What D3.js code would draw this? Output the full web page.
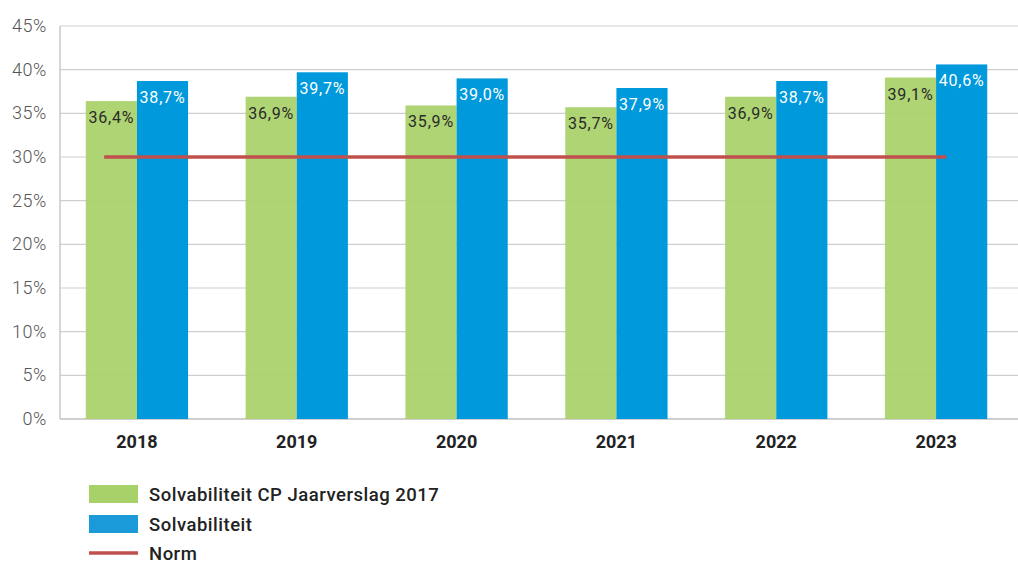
<!DOCTYPE html>
<html>
<head>
<meta charset="utf-8">
<script src="https://cdn.jsdelivr.net/npm/d3@7"></script>
<style>
  html, body { margin: 0; padding: 0; background: #fff; }
  svg { display: block; font-family: Roboto, "Noto Sans", sans-serif; }
</style>
</head>
<body>
<svg id="chart" width="1018" height="563"></svg>
<script>
// Solvability per year: CP annual report 2017 vs. actual, with 30% norm.
const years = ['2018', '2019', '2020', '2021', '2022', '2023'];
const cpValues = [36.4, 36.9, 35.9, 35.7, 36.9, 39.1];      // Solvabiliteit CP Jaarverslag 2017
const solvValues = [38.7, 39.7, 39.0, 37.9, 38.7, 40.6];    // Solvabiliteit
const normValue = 30;
const yTicks = [0, 5, 10, 15, 20, 25, 30, 35, 40, 45];
const seriesNames = ['Solvabiliteit CP Jaarverslag 2017', 'Solvabiliteit', 'Norm'];

const GREEN = '#a9d16a', BLUE = '#0099dc', RED = '#c0504d';

const svg = d3.select('#chart');
const plotL = 60, plotR = 1016, plotT = 26, plotB = 419;

const x = d3.scaleBand().domain(years).range([plotL - 3, plotR]).paddingInner(0.36).paddingOuter(0.18);
const xs = d3.scaleBand().domain([0, 1]).range([0, x.bandwidth()]);
const y = d3.scaleLinear().domain([0, 45]).range([plotB, plotT]);

const fmt = v => d3.format('.1f')(v).replace('.', ',') + '%';

// gridlines
svg.append('g')
  .selectAll('line')
  .data(yTicks)
  .join('line')
  .attr('x1', plotL).attr('x2', 1018)
  .attr('y1', d => y(d)).attr('y2', d => y(d))
  .attr('stroke', '#cfcfcf')
  .attr('stroke-width', d => d === 0 ? 2 : 1.2);

// left axis line
svg.append('line')
  .attr('x1', plotL).attr('x2', plotL)
  .attr('y1', plotT).attr('y2', plotB)
  .attr('stroke', '#c8c8c8').attr('stroke-width', 1.5);

// y tick labels
svg.append('g')
  .selectAll('text')
  .data(yTicks)
  .join('text')
  .attr('x', 47)
  .attr('y', d => y(d) + 6)
  .attr('text-anchor', 'end')
  .attr('fill', '#555')
  .style('font-size', '18px')
  .style('font-weight', 300)
  .style('letter-spacing', '0.6px')
  .text(d => d + '%');

// bars
const groups = svg.append('g')
  .selectAll('g')
  .data(years.map((yr, i) => ({ yr, vals: [cpValues[i], solvValues[i]] })))
  .join('g')
  .attr('transform', d => `translate(${x(d.yr)},0)`);

groups.selectAll('rect')
  .data(d => d.vals.map((v, k) => ({ v, k })))
  .join('rect')
  .attr('x', d => xs(d.k))
  .attr('width', xs.bandwidth())
  .attr('y', d => y(d.v))
  .attr('height', d => y(0) - y(d.v))
  .attr('fill', d => d.k === 0 ? GREEN : BLUE)
  .attr('fill-opacity', d => d.k === 0 ? 0.94 : 1);

groups.selectAll('text')
  .data(d => d.vals.map((v, k) => ({ v, k })))
  .join('text')
  .attr('x', d => xs(d.k) + xs.bandwidth() / 2)
  .attr('y', d => y(d.v) + 22)
  .attr('text-anchor', 'middle')
  .attr('fill', d => d.k === 0 ? '#2a2a2a' : '#fff')
  .style('font-size', '16px')
  .style('font-weight', 400)
  .style('letter-spacing', '0.8px')
  .text(d => fmt(d.v));

// norm line
svg.append('line')
  .attr('x1', x(years[0]) + x.bandwidth() * 0.18)
  .attr('x2', x(years[years.length - 1]) + x.bandwidth() * 0.6)
  .attr('y1', y(normValue)).attr('y2', y(normValue))
  .attr('stroke', RED).attr('stroke-width', 3.5);

// x labels
svg.append('g')
  .selectAll('text')
  .data(years)
  .join('text')
  .attr('x', d => x(d) + x.bandwidth() / 2)
  .attr('y', 448)
  .attr('text-anchor', 'middle')
  .attr('fill', '#222')
  .style('font-size', '18px')
  .style('font-weight', 700)
  .text(d => d);

// legend
const legend = svg.append('g').attr('transform', 'translate(89,0)');
const legY = [494, 524, 553];
seriesNames.forEach((name, i) => {
  if (i < 2) {
    legend.append('rect')
      .attr('x', 0).attr('y', legY[i] - 9)
      .attr('width', 49).attr('height', 18)
      .attr('fill', i === 0 ? GREEN : '#1a9ad9');
  } else {
    legend.append('line')
      .attr('x1', 0).attr('x2', 49)
      .attr('y1', legY[i]).attr('y2', legY[i])
      .attr('stroke', RED).attr('stroke-width', 3.5);
  }
  legend.append('text')
    .attr('x', 60).attr('y', legY[i] + 7)
    .attr('fill', '#222')
    .style('font-size', '18.5px')
    .style('font-weight', 500)
    .style('letter-spacing', '0.5px')
    .text(name);
});
</script>
</body>
</html>
